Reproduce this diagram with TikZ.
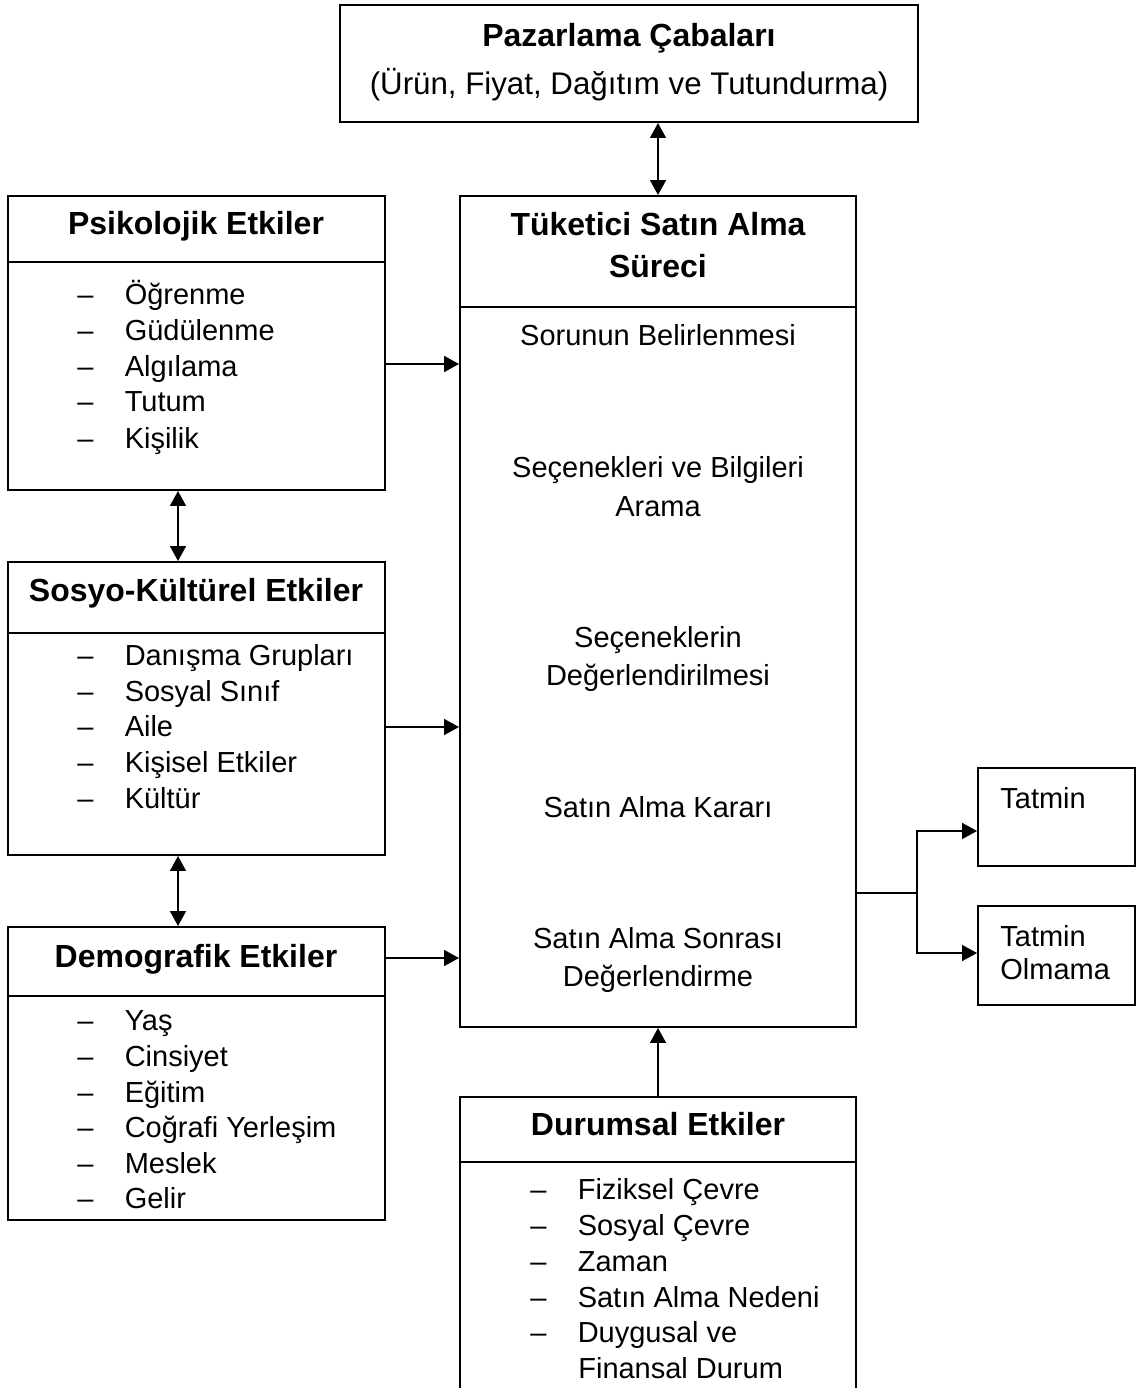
\documentclass[tikz,border=0pt]{standalone}
\usepackage{fontspec}
\setmainfont{Liberation Sans}
\usetikzlibrary{arrows.meta,fit}

\newcommand{\itemdash}{\makebox[27pt][l]{--}}

\begin{document}
\begin{tikzpicture}[x=0.02cm, y=-0.02cm,
  box/.style={draw, line width=1.1pt, inner sep=0pt},
  head/.style={anchor=base, inner sep=0pt, font=\fontsize{18.2}{21}\selectfont\bfseries},
  txt/.style={anchor=base, inner sep=0pt, font=\fontsize{16.5}{20}\selectfont},
  item/.style={anchor=base west, inner sep=0pt, font=\fontsize{16.5}{20}\selectfont},
  arr/.style={-{Triangle[length=8.5pt,width=9pt]}, line width=1.1pt},
  dbl/.style={{Triangle[length=8.5pt,width=9pt]}-{Triangle[length=8.5pt,width=9pt]}, line width=1.1pt}]

\clip (0,0) rectangle (1137,1388);

% Boxes
\node[box, fit={(340,5) (918,122)}] (paz) {};
\node[box, fit={(460,196) (856,1027)}] (cons) {};
\node[box, fit={(8,196) (385,490)}] (psi) {};
\node[box, fit={(8,562) (385,855)}] (sos) {};
\node[box, fit={(8,927) (385,1220)}] (dem) {};
\node[box, fit={(460,1097) (856,1420)}] (dur) {};
\node[box, fit={(978,768) (1135,866)}] (sat) {};
\node[box, fit={(978,906) (1135,1005)}] (dis) {};

% Header lines
\draw[line width=1.1pt] (cons.west |- 0,307) -- (cons.east |- 0,307);
\draw[line width=1.1pt] (psi.west |- 0,262) -- (psi.east |- 0,262);
\draw[line width=1.1pt] (sos.west |- 0,633) -- (sos.east |- 0,633);
\draw[line width=1.1pt] (dem.west |- 0,996) -- (dem.east |- 0,996);
\draw[line width=1.1pt] (dur.west |- 0,1162) -- (dur.east |- 0,1162);

% Pazarlama
\node[head] (pazT) at (629,47) {Pazarlama Çabaları};
\node[txt, font=\fontsize{17.8}{21}\selectfont] (pazS) at (629,95) {(Ürün, Fiyat, Dağıtım ve Tutundurma)};

% Tuketici
\node[head] (consT1) at (658,236) {Tüketici Satın Alma};
\node[head] (consT2) at (658,278) {Süreci};
\node[txt] (st1) at (658,346) {Sorunun Belirlenmesi};
\node[txt] (st2a) at (658,477) {Seçenekleri ve Bilgileri};
\node[txt] (st2b) at (658,516) {Arama};
\node[txt] (st3a) at (658,647) {Seçeneklerin};
\node[txt] (st3b) at (658,685) {Değerlendirilmesi};
\node[txt] (st4) at (658,817) {Satın Alma Kararı};
\node[txt] (st5a) at (658,948) {Satın Alma Sonrası};
\node[txt] (st5b) at (658,986) {Değerlendirme};

% Psikolojik
\node[head] (psiT) at (196,235) {Psikolojik Etkiler};
\node[item] (psi1) at (77,305) {\itemdash Öğrenme};
\node[item] (psi2) at (77,341) {\itemdash Güdülenme};
\node[item] (psi3) at (77,377) {\itemdash Algılama};
\node[item] (psi4) at (77,412) {\itemdash Tutum};
\node[item] (psi5) at (77,448) {\itemdash Kişilik};

% Sosyo-Kulturel
\node[head] (sosT) at (196,601) {Sosyo-Kültürel Etkiler};
\node[item] (sos1) at (77,665) {\itemdash Danışma Grupları};
\node[item] (sos2) at (77,701) {\itemdash Sosyal Sınıf};
\node[item] (sos3) at (77,736) {\itemdash Aile};
\node[item] (sos4) at (77,772) {\itemdash Kişisel Etkiler};
\node[item] (sos5) at (77,808) {\itemdash Kültür};

% Demografik
\node[head] (demT) at (196,967) {Demografik Etkiler};
\node[item] (dem1) at (77,1030) {\itemdash Yaş};
\node[item] (dem2) at (77,1066) {\itemdash Cinsiyet};
\node[item] (dem3) at (77,1102) {\itemdash Eğitim};
\node[item] (dem4) at (77,1137) {\itemdash Coğrafi Yerleşim};
\node[item] (dem5) at (77,1173) {\itemdash Meslek};
\node[item] (dem6) at (77,1208) {\itemdash Gelir};

% Durumsal
\node[head] (durT) at (658,1135) {Durumsal Etkiler};
\node[item] (dur1) at (530,1199) {\itemdash Fiziksel Çevre};
\node[item] (dur2) at (530,1235) {\itemdash Sosyal Çevre};
\node[item] (dur3) at (530,1271) {\itemdash Zaman};
\node[item] (dur4) at (530,1307) {\itemdash Satın Alma Nedeni};
\node[item] (dur5) at (530,1342) {\itemdash Duygusal ve};
\node[item] (dur6) at (578,1378) {Finansal Durum};

% Sonuc
\node[item] (satT) at (1000,808) {Tatmin};
\node[item] (disT1) at (1000,946) {Tatmin};
\node[item] (disT2) at (1000,979) {Olmama};

% Edges
\coordinate (lx) at (178,0);
\coordinate (jn) at (917,893);
\draw[dbl] (cons.north |- paz.south) -- (cons.north);
\draw[dbl] (psi.south -| lx) -- (sos.north -| lx);
\draw[dbl] (sos.south -| lx) -- (dem.north -| lx);
\draw[arr] (psi.east |- 0,364) -- (cons.west |- 0,364);
\draw[arr] (sos.east |- 0,727) -- (cons.west |- 0,727);
\draw[arr] (dem.east |- 0,958) -- (cons.west |- 0,958);
\draw[arr] (dur.north -| cons.south) -- (cons.south);
\draw[line width=1.1pt] (cons.east |- jn) -- (jn);
\draw[arr] (jn) |- (sat.west |- 0,831);
\draw[arr] (jn) |- (dis.west |- 0,953);
\end{tikzpicture}
\end{document}
